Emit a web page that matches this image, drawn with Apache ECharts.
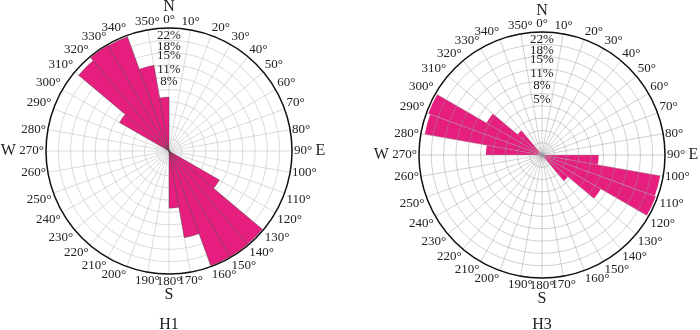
<!DOCTYPE html>
<html>
<head>
<meta charset="utf-8">
<script src="https://cdn.jsdelivr.net/npm/echarts@6.0.0/dist/echarts.min.js"></script>
<style>
html, body { margin: 0; padding: 0; background: #fff; }
#main { width: 700px; height: 330px; }
</style>
</head>
<body>
<div id="main"></div>
<script>
// 扇区起始方位角（从正北顺时针，每10°一个扇区）
var sectors = [0, 10, 20, 30, 40, 50, 60, 70, 80, 90, 100, 110,
               120, 130, 140, 150, 160, 170, 180, 190, 200, 210, 220, 230,
               240, 250, 260, 270, 280, 290, 300, 310, 320, 330, 340, 350];

// H1 各扇区百分比
var h1Pct = [0, 0, 0, 0, 0, 0, 0, 0, 0, 0, 0, 0,
             5.6, 24.5, 24.6, 24.6, 12.8, 5.4, 0, 0, 0, 0, 0, 0,
             0, 0, 0, 0, 0, 0, 5.4, 23.0, 24.6, 24.4, 12.5, 4.8];

// H3 各扇区百分比
var h3Pct = [0, 0, 0, 0, 0, 0, 0, 0, 0, 5.3, 23.8, 24.2,
             7.6, 1.9, 0, 0, 0, 0, 0, 0, 0, 0, 0, 0,
             0, 0, 0, 5.2, 23.4, 24.2, 6.8, 1.7, 0, 0, 0, 0];

// 半径刻度标签（%）
var h1Ticks = [8, 11, 15, 18, 22];
var h3Ticks = [5, 8, 11, 15, 18, 22];
var maxPct = 25;

var chart = echarts.init(document.getElementById('main'));
var font = 'Liberation Serif';
var pink = '#E61E7E';
var c1 = [169, 151];
var c3 = [542, 155];

// 等面积玫瑰图：半径按百分比开方
function toRadius(arr) {
    return arr.map(function (v) { return Math.sqrt(v); });
}

// 标签挨得太近会被自动隐藏，分成两组分别画
function everyOther(arr, odd) {
    return arr.filter(function (v, i) { return i % 2 === odd; });
}

function angleLabel(v) {
    if (v === 360) return '';
    if (v === 0) return '{big|N}\n{deg|0°}';
    if (v === 90) return '{deg|90°} {big|E}';
    if (v === 180) return '{deg|180°}\n{big|S}';
    if (v === 270) return '{big|W} {deg|270°}';
    return '{deg|' + v + '°}';
}

function hiddenAngleAxis(idx, cat) {
    var a = {
        polarIndex: idx, startAngle: 90, clockwise: true,
        axisLine: {show: false}, axisTick: {show: false},
        axisLabel: {show: false}, splitLine: {show: false}
    };
    if (cat) {
        a.type = 'category'; a.data = sectors; a.boundaryGap = true;
    } else {
        a.type = 'value'; a.min = 0; a.max = 360;
    }
    return a;
}

function gridAngleAxis(idx, z, color) {
    return {
        polarIndex: idx, type: 'value', min: 0, max: 360, interval: 10,
        startAngle: 90, clockwise: true, z: z,
        axisLine: {lineStyle: {color: '#111', width: 1.5}},
        axisTick: {show: false},
        axisLabel: {
            margin: 2,
            formatter: angleLabel,
            rich: {
                deg: {fontFamily: font, fontSize: 13, color: '#222', lineHeight: 12},
                big: {fontFamily: font, fontSize: 16, color: '#222', lineHeight: 14}
            }
        },
        splitLine: {lineStyle: {color: color, width: 0.8}}
    };
}

function radiusAxis(idx, ticks, z, color) {
    return {
        polarIndex: idx, type: 'value', min: 0, max: Math.sqrt(maxPct), interval: Math.sqrt(maxPct) / 10,
        z: z,
        axisLine: {show: false}, axisTick: {show: false},
        splitLine: {show: !!color, lineStyle: {color: color, width: 0.8}},
        axisLabel: {
            show: ticks.length > 0,
            customValues: ticks.map(function (t) { return Math.sqrt(t); }),
            formatter: function (v) { return Math.round(v * v) + '%'; },
            showMinLabel: true, showMaxLabel: true,
            margin: 0, align: 'center', verticalAlign: 'middle',
            fontFamily: font, fontSize: 13, color: '#222'
        }
    };
}

var option = {
    animation: false,
    title: [
        {text: 'H1', left: c1[0], top: 317, textAlign: 'center', padding: 0,
         textStyle: {fontFamily: font, fontSize: 16, fontWeight: 'normal', color: '#222'}},
        {text: 'H3', left: c3[0], top: 317, textAlign: 'center', padding: 0,
         textStyle: {fontFamily: font, fontSize: 16, fontWeight: 'normal', color: '#222'}}
    ],
    polar: [
        {center: c1, radius: 123},   // 0 H1 柱
        {center: c1, radius: 123},   // 1 H1 网格
        {center: c1, radius: 123},   // 2 H1 第二组标签
        {center: c3, radius: 123},   // 3 H3 柱
        {center: c3, radius: 123},   // 4 H3 网格
        {center: c3, radius: 123}    // 5 H3 第二组标签
    ],
    angleAxis: [
        hiddenAngleAxis(0, true),
        gridAngleAxis(1, 0, '#d0d0d0'),
        hiddenAngleAxis(2, false),
        hiddenAngleAxis(3, true),
        gridAngleAxis(4, 5, 'rgba(150,150,150,0.55)'),
        hiddenAngleAxis(5, false)
    ],
    radiusAxis: [
        radiusAxis(0, [], 0, null),
        radiusAxis(1, everyOther(h1Ticks, 0), 0, '#d0d0d0'),
        radiusAxis(2, everyOther(h1Ticks, 1), 0, null),
        radiusAxis(3, [], 0, null),
        radiusAxis(4, everyOther(h3Ticks, 0), 5, 'rgba(150,150,150,0.55)'),
        radiusAxis(5, everyOther(h3Ticks, 1), 5, null)
    ],
    series: [
        {
            name: 'H1', type: 'bar', coordinateSystem: 'polar', polarIndex: 0,
            barCategoryGap: '0%', data: toRadius(h1Pct),
            itemStyle: {color: pink, borderColor: 'rgba(60,60,60,0.7)', borderWidth: 0.5}
        },
        {
            name: 'H3', type: 'bar', coordinateSystem: 'polar', polarIndex: 3,
            barCategoryGap: '0%', data: toRadius(h3Pct),
            itemStyle: {color: pink}
        }
    ]
};

chart.setOption(option);
</script>
</body>
</html>
